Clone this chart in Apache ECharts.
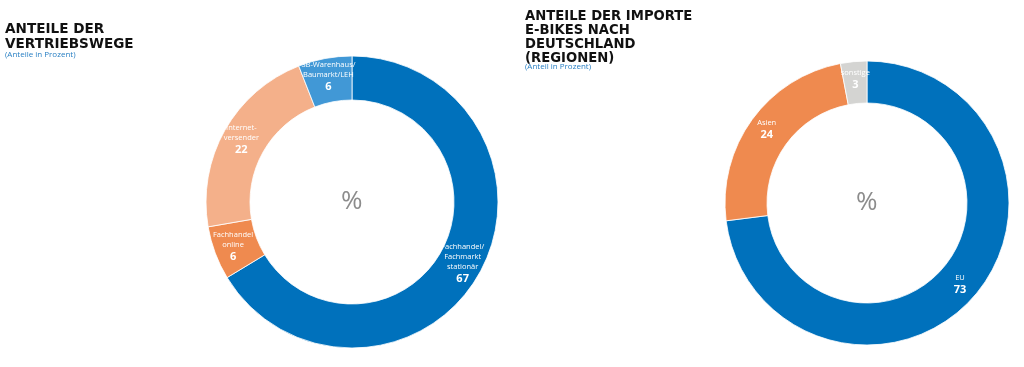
<!DOCTYPE html>
<html><head><meta charset="utf-8">
<script src="https://cdn.jsdelivr.net/npm/echarts@6/dist/echarts.min.js"></script>
<style>html,body{margin:0;padding:0;background:#fff}#c{width:1024px;height:367px}</style>
</head><body><div id="c"></div>
<script>
var vertriebNames = ['Fachhandel/\nFachmarkt\nstationär', 'Fachhandel\nonline', 'Internet-\nversender', 'SB-Warenhaus/\nBaumarkt/LEH'];
var vertriebValues = [67, 6, 22, 6];
var vertriebColors = ['#0071bc', '#ef8a4f', '#f4b08a', '#4198d6'];
var importNames = ['EU', 'Asien', 'sonstige'];
var importValues = [73, 24, 3];
var importColors = ['#0071bc', '#ef8a4f', '#d4d4d2'];

function mk(names, values, colors) {
  return names.map(function (n, i) { return { name: n, value: values[i], itemStyle: { color: colors[i] } }; });
}
var lbl = {
  show: true, position: 'inside',
  formatter: function (p) { return '{n|' + p.name + '}\n{v|' + p.value + '}'; },
  rich: {
    n: { color: '#fff', fontSize: 7.5, fontFamily: 'Open Sans', lineHeight: 10 },
    v: { color: '#fff', fontSize: 11, fontWeight: 'bold', fontFamily: 'Open Sans', lineHeight: 14 }
  }
};
var titleFont = 'DejaVu Sans';
var chart = echarts.init(document.getElementById('c'));
chart.setOption({
  animation: false,
  title: [
    { text: 'ANTEILE DER\nVERTRIEBSWEGE', left: 0, top: 17, textStyle: { fontFamily: titleFont, fontWeight: 'bold', fontSize: 13.6, lineHeight: 15, color: '#111' },
      subtext: '(Anteile in Prozent)', subtextStyle: { fontFamily: 'Open Sans', fontSize: 8, color: '#2a80c4' }, itemGap: -1 },
    { text: 'ANTEILE DER IMPORTE\nE-BIKES NACH\nDEUTSCHLAND\n(REGIONEN)', left: 520, top: 5, textStyle: { fontFamily: titleFont, fontWeight: 'bold', fontSize: 13.2, lineHeight: 13.8, color: '#111' },
      subtext: '(Anteil in Prozent)', subtextStyle: { fontFamily: 'Open Sans', fontSize: 8, color: '#2a80c4' }, itemGap: -2 }
  ],
  graphic: [
    { type: 'text', left: 341, top: 189, style: { text: '%', fontSize: 26, fill: '#8c8c8c', fontFamily: 'Open Sans' } },
    { type: 'text', left: 856, top: 190, style: { text: '%', fontSize: 26, fill: '#8c8c8c', fontFamily: 'Open Sans' } }
  ],
  series: [
    { type: 'pie', center: [352, 202], radius: [102, 146], startAngle: 90, clockwise: true,
      itemStyle: { borderColor: '#fff', borderWidth: 0.8 }, label: lbl, labelLine: { show: false },
      data: mk(vertriebNames, vertriebValues, vertriebColors) },
    { type: 'pie', center: [867, 203], radius: [100, 142], startAngle: 90, clockwise: true,
      itemStyle: { borderColor: '#fff', borderWidth: 0.8 }, label: lbl, labelLine: { show: false },
      data: mk(importNames, importValues, importColors) }
  ]
});
</script></body></html>
